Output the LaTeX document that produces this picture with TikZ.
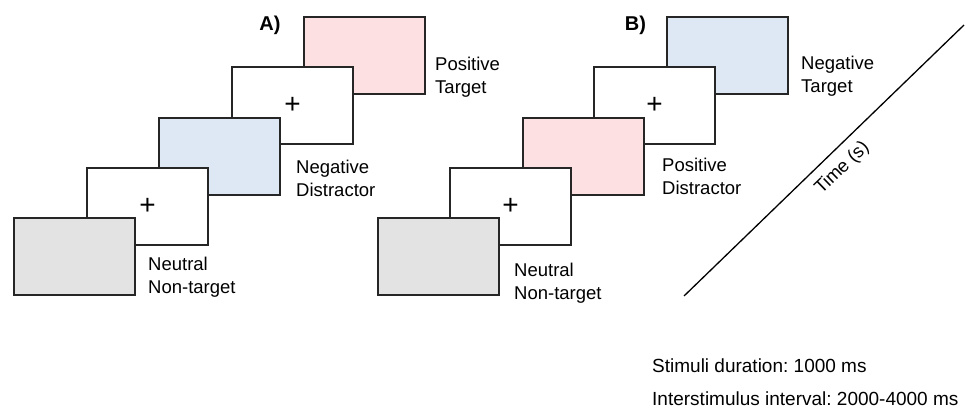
\documentclass[tikz,border=0pt]{standalone}
\usepackage{fontspec}
\setmainfont{Liberation Sans}
\frenchspacing
\definecolor{pinkfill}{RGB}{253,224,225}
\definecolor{bluefill}{RGB}{222,232,244}
\definecolor{grayfill}{RGB}{227,227,227}
\definecolor{edge}{RGB}{38,38,38}
\begin{document}
\begin{tikzpicture}[x=1pt, y=-1pt,
  screen/.style={draw=edge, line width=2pt, minimum width=121pt, minimum height=77pt, inner sep=0pt},
  cross/.style={font=\fontsize{28}{28}\selectfont},
  lbl/.style={anchor=north west, align=left, inner sep=0pt, font=\fontsize{18.5}{23}\selectfont},
  note/.style={anchor=base west, inner sep=0pt, font=\fontsize{19}{23}\selectfont},
  panel/.style={font=\fontsize{20}{20}\selectfont\bfseries}]
\useasboundingbox (0,0) rectangle (965,409);
% A) positive target, back to front
\node[screen, fill=pinkfill] (apos) at (364.5,55.5) {};
\node[screen, fill=white, cross] (afixb) at (292.5,105.5) {+};
\node[screen, fill=bluefill] (aneg) at (219.5,156) {};
\node[screen, fill=white, cross] (afixa) at (147.5,206) {+};
\node[screen, fill=grayfill] (aneu) at (74.5,256.5) {};
\node[panel] (atitle) at (270,25) {A)};
\node[lbl] (aposl) at (435,57) {Positive\\Target};
\node[lbl] (anegl) at (296,160) {Negative\\Distractor};
\node[lbl] (aneul) at (148,257) {Neutral\\Non-target};
% B) negative target
\node[screen, fill=bluefill] (bneg) at (727.5,55.5) {};
\node[screen, fill=white, cross] (bfixb) at (654.5,105.5) {+};
\node[screen, fill=pinkfill] (bpos) at (583,156) {};
\node[screen, fill=white, cross] (bfixa) at (510.5,206) {+};
\node[screen, fill=grayfill] (bneu) at (438,256.5) {};
\node[panel] (btitle) at (635.5,25) {B)};
\node[lbl] (bnegl) at (801,56) {Negative\\Target};
\node[lbl] (bposl) at (662,158) {Positive\\Distractor};
\node[lbl] (bneul) at (514,263) {Neutral\\Non-target};
% time axis
\coordinate (t0) at (684,296);
\coordinate (t1) at (964,25);
\draw[line width=1.3pt] (t0) -- node[pos=0.52, sloped, below, inner sep=9pt, font=\fontsize{18.5}{23}\selectfont] (tlabel) {Time (s)} (t1);
\node[note] (dur) at (652,372) {Stimuli duration: 1000 ms};
\node[note] (isi) at (652,405) {Interstimulus interval: 2000-4000 ms};
\end{tikzpicture}
\end{document}
